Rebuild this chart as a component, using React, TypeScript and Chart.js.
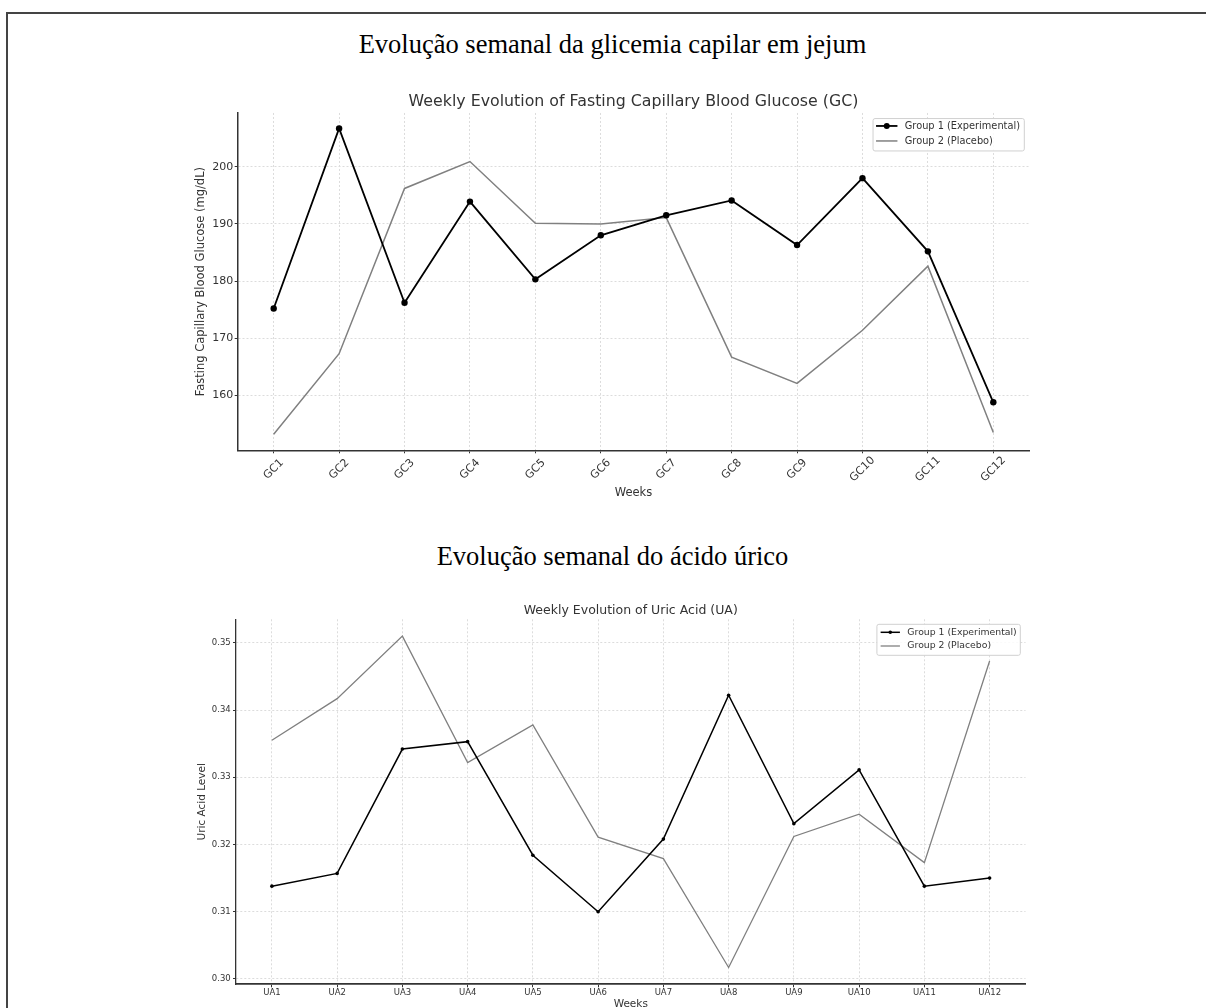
import React, { useEffect, useRef } from "react";
import { Chart, registerables } from "chart.js";

Chart.register(...registerables);

// ---------- data ----------
const gcWeeks = ["GC1", "GC2", "GC3", "GC4", "GC5", "GC6", "GC7", "GC8", "GC9", "GC10", "GC11", "GC12"];
const gcGroup1 = [175.2, 206.7, 176.2, 193.9, 180.3, 188.0, 191.5, 194.1, 186.3, 198.0, 185.2, 158.8];
const gcGroup2 = [153.2, 167.3, 196.2, 200.9, 190.1, 190.0, 191.1, 166.7, 162.1, 171.4, 182.6, 153.5];
const gcYTicks = [160, 170, 180, 190, 200];

const uaWeeks = ["UA1", "UA2", "UA3", "UA4", "UA5", "UA6", "UA7", "UA8", "UA9", "UA10", "UA11", "UA12"];
const uaGroup1 = [0.3138, 0.3157, 0.3342, 0.3353, 0.3184, 0.31, 0.3208, 0.3422, 0.3231, 0.3311, 0.3138, 0.315];
const uaGroup2 = [0.3355, 0.3417, 0.351, 0.3322, 0.3378, 0.3211, 0.3179, 0.3017, 0.3212, 0.3245, 0.3173, 0.3473];
const uaYTicks = [0.3, 0.31, 0.32, 0.33, 0.34, 0.35];

const seriesNames = ["Group 1 (Experimental)", "Group 2 (Placebo)"];

const docTitle1 = "Evolução semanal da glicemia capilar em jejum";
const docTitle2 = "Evolução semanal do ácido úrico";
const gcTitle = "Weekly Evolution of Fasting Capillary Blood Glucose (GC)";
const uaTitle = "Weekly Evolution of Uric Acid (UA)";
const gcYLabel = "Fasting Capillary Blood Glucose (mg/dL)";
const uaYLabel = "Uric Acid Level";
const xLabel = "Weeks";

const SANS = '"DejaVu Sans", sans-serif';
const TEXT = "#333333";

// ---------- plugins ----------
const boxLegend = {
  id: "boxLegend",
  afterDatasetsDraw(chart: any, _args: any, opts: any) {
    if (!opts || !opts.show) return;
    const { ctx, chartArea } = chart;
    const dsets = chart.data.datasets;
    ctx.save();
    ctx.font = `${opts.fontSize}px ${SANS}`;
    const textW = Math.max(...dsets.map((d: any) => ctx.measureText(d.label).width));
    const w = opts.padL + opts.sample + opts.gap + textW + opts.padR;
    const h = opts.height;
    const x = chartArea.right - opts.right - w;
    const y = chartArea.top + opts.top;
    ctx.beginPath();
    if (ctx.roundRect) ctx.roundRect(x, y, w, h, 2);
    else ctx.rect(x, y, w, h);
    ctx.fillStyle = "rgba(255,255,255,0.85)";
    ctx.fill();
    ctx.strokeStyle = "#d0d0d0";
    ctx.lineWidth = 1;
    ctx.stroke();
    dsets.forEach((d: any, i: number) => {
      const ry = y + opts.rows[i];
      const x0 = x + opts.padL;
      const x1 = x0 + opts.sample;
      ctx.beginPath();
      ctx.moveTo(x0, ry);
      ctx.lineTo(x1, ry);
      ctx.strokeStyle = d.borderColor;
      ctx.lineWidth = d.borderWidth;
      ctx.stroke();
      if (d.pointRadius > 0) {
        ctx.beginPath();
        ctx.arc((x0 + x1) / 2, ry, opts.markerR, 0, Math.PI * 2);
        ctx.fillStyle = d.borderColor;
        ctx.fill();
      }
      ctx.fillStyle = TEXT;
      ctx.textAlign = "left";
      ctx.textBaseline = "middle";
      ctx.fillText(d.label, x1 + opts.gap, ry);
    });
    ctx.restore();
  },
};

const rotatedTicks = {
  id: "rotatedTicks",
  afterDraw(chart: any, _args: any, opts: any) {
    if (!opts || !opts.labels) return;
    const { ctx, chartArea } = chart;
    const xs = chart.scales.x;
    ctx.save();
    ctx.font = `${opts.fontSize}px ${SANS}`;
    ctx.fillStyle = TEXT;
    ctx.textAlign = "center";
    ctx.textBaseline = "middle";
    opts.labels.forEach((lab: string, i: number) => {
      const px = xs.getPixelForValue(i);
      ctx.save();
      ctx.translate(px, chartArea.bottom + opts.offset);
      ctx.rotate(-Math.PI / 4);
      ctx.fillText(lab, 0, 0);
      ctx.restore();
    });
    ctx.restore();
  },
};

// ---------- chart component ----------
type Cfg = {
  left: number;
  top: number;
  width: number;
  height: number;
  build: () => any;
};

function ChartBox({ left, top, width, height, build }: Cfg) {
  const ref = useRef<HTMLCanvasElement | null>(null);
  useEffect(() => {
    if (!ref.current) return;
    const chart = new Chart(ref.current, build());
    return () => chart.destroy();
  }, []);
  return (
    <div style={{ position: "absolute", left, top, width, height }}>
      <canvas ref={ref} width={width} height={height} style={{ width, height, display: "block" }} />
    </div>
  );
}

const gridCommon = {
  color: "#dcdcdc",
  lineWidth: 1,
  drawTicks: true,
  tickLength: 3,
  tickColor: "#333333",
  tickWidth: 1,
  tickBorderDash: [],
};

function gcConfig() {
  return {
    type: "line",
    data: {
      datasets: [
        {
          label: seriesNames[0],
          data: gcGroup1.map((v, i) => ({ x: i, y: v })),
          borderColor: "#000000",
          backgroundColor: "#000000",
          borderWidth: 1.8,
          pointRadius: 3.2,
          pointBorderWidth: 0,
          pointBackgroundColor: "#000000",
          tension: 0,
        },
        {
          label: seriesNames[1],
          data: gcGroup2.map((v, i) => ({ x: i, y: v })),
          borderColor: "#808080",
          backgroundColor: "#808080",
          borderWidth: 1.5,
          pointRadius: 0,
          tension: 0,
        },
      ],
    },
    plugins: [boxLegend, rotatedTicks],
    options: {
      animation: false,
      responsive: false,
      events: [],
      layout: { padding: { left: 0, right: 20.7, top: 0, bottom: 0 } },
      plugins: {
        legend: { display: false },
        tooltip: { enabled: false },
        title: {
          display: true,
          fullSize: false,
          text: gcTitle,
          color: TEXT,
          font: { family: SANS, size: 15.8, weight: "normal" },
          padding: { top: 12.3, bottom: 1.7 },
        },
        boxLegend: {
          show: true,
          fontSize: 9.8,
          padL: 3,
          sample: 21.4,
          gap: 7.3,
          padR: 4.3,
          right: 5,
          top: 5.6,
          height: 32.4,
          rows: [7.4, 22.4],
          markerR: 3,
        },
        rotatedTicks: { labels: gcWeeks, fontSize: 11, offset: 19 },
      },
      scales: {
        x: {
          type: "linear",
          min: -0.55,
          max: 11.55,
          afterBuildTicks: (s: any) => {
            s.ticks = gcWeeks.map((_, i) => ({ value: i }));
          },
          afterFit: (s: any) => {
            s.height = 69.7;
          },
          ticks: { display: false, autoSkip: false },
          grid: gridCommon,
          border: { display: true, color: "#333333", width: 1.5, dash: [2, 2] },
          title: {
            display: true,
            text: xLabel,
            color: TEXT,
            font: { family: SANS, size: 11.5 },
            padding: { top: 0, bottom: 20.1 },
          },
        },
        y: {
          type: "linear",
          min: 150.4,
          max: 209.4,
          afterBuildTicks: (s: any) => {
            s.ticks = gcYTicks.map((v) => ({ value: v }));
          },
          afterFit: (s: any) => {
            s.width = 87.7;
          },
          ticks: {
            color: TEXT,
            font: { family: SANS, size: 11 },
            padding: 1.4,
            callback: (v: any) => String(v),
          },
          grid: gridCommon,
          border: { display: true, color: "#333333", width: 1.5, dash: [2, 2] },
          title: {
            display: true,
            text: gcYLabel,
            color: TEXT,
            font: { family: SANS, size: 11.5 },
            padding: { top: 43.8, bottom: 0 },
          },
        },
      },
    },
  };
}

function uaConfig() {
  return {
    type: "line",
    data: {
      datasets: [
        {
          label: seriesNames[0],
          data: uaGroup1.map((v, i) => ({ x: i, y: v })),
          borderColor: "#000000",
          backgroundColor: "#000000",
          borderWidth: 1.5,
          pointRadius: 1.8,
          pointBorderWidth: 0,
          pointBackgroundColor: "#000000",
          tension: 0,
        },
        {
          label: seriesNames[1],
          data: uaGroup2.map((v, i) => ({ x: i, y: v })),
          borderColor: "#808080",
          backgroundColor: "#808080",
          borderWidth: 1.3,
          pointRadius: 0,
          tension: 0,
        },
      ],
    },
    plugins: [boxLegend],
    options: {
      animation: false,
      responsive: false,
      events: [],
      layout: { padding: { left: 0, right: 24.5, top: 0, bottom: 0 } },
      plugins: {
        legend: { display: false },
        tooltip: { enabled: false },
        title: {
          display: true,
          fullSize: false,
          text: uaTitle,
          color: TEXT,
          font: { family: SANS, size: 12.5, weight: "normal" },
          padding: { top: 23.2, bottom: 1.1 },
        },
        boxLegend: {
          show: true,
          fontSize: 9.3,
          padL: 3.7,
          sample: 19.3,
          gap: 7.4,
          padR: 3.6,
          right: 5.2,
          top: 5,
          height: 31,
          rows: [8, 21.7],
          markerR: 1.8,
        },
      },
      scales: {
        x: {
          type: "linear",
          min: -0.55,
          max: 11.55,
          afterBuildTicks: (s: any) => {
            s.ticks = uaWeeks.map((_, i) => ({ value: i }));
          },
          afterFit: (s: any) => {
            s.height = 35.7;
          },
          ticks: {
            autoSkip: false,
            maxRotation: 0,
            minRotation: 0,
            color: TEXT,
            font: { family: SANS, size: 8.5 },
            padding: 0,
            callback: (v: any) => uaWeeks[Math.round(v)] ?? "",
          },
          grid: gridCommon,
          border: { display: true, color: "#333333", width: 1.8, dash: [2, 2] },
          title: {
            display: true,
            text: xLabel,
            color: TEXT,
            font: { family: SANS, size: 10.5 },
            padding: { top: 0, bottom: 9.6 },
          },
        },
        y: {
          type: "linear",
          min: 0.2992,
          max: 0.3535,
          afterBuildTicks: (s: any) => {
            s.ticks = uaYTicks.map((v) => ({ value: v }));
          },
          afterFit: (s: any) => {
            s.width = 86;
          },
          ticks: {
            color: TEXT,
            font: { family: SANS, size: 8.5 },
            padding: 2.3,
            callback: (v: any) => Number(v).toFixed(2),
          },
          grid: gridCommon,
          border: { display: true, color: "#333333", width: 1.3, dash: [2, 2] },
          title: {
            display: true,
            text: uaYLabel,
            color: TEXT,
            font: { family: SANS, size: 10.5 },
            padding: { top: 46.4, bottom: 0 },
          },
        },
      },
    },
  };
}

const serifTitle: React.CSSProperties = {
  position: "absolute",
  left: 0,
  width: 1225,
  textAlign: "center",
  fontFamily: '"Liberation Serif", "Times New Roman", serif',
  fontSize: 26.5,
  lineHeight: "30px",
  height: 30,
  color: "#000",
  whiteSpace: "nowrap",
};

export default function App() {
  return (
    <div
      style={{
        position: "absolute",
        left: 0,
        top: 0,
        width: 1206,
        height: 1008,
        overflow: "hidden",
        background: "#ffffff",
      }}
    >
      <div
        style={{
          position: "absolute",
          left: 6,
          top: 12,
          width: 1240,
          height: 1040,
          borderTop: "2px solid #444",
          borderLeft: "2px solid #444",
        }}
      />
      <div style={{ ...serifTitle, top: 28.6 }}>{docTitle1}</div>
      <div style={{ ...serifTitle, top: 540.6 }}>{docTitle2}</div>
      <ChartBox left={150} top={80} width={900} height={440} build={gcConfig} />
      <ChartBox left={150} top={580} width={900} height={440} build={uaConfig} />
    </div>
  );
}
